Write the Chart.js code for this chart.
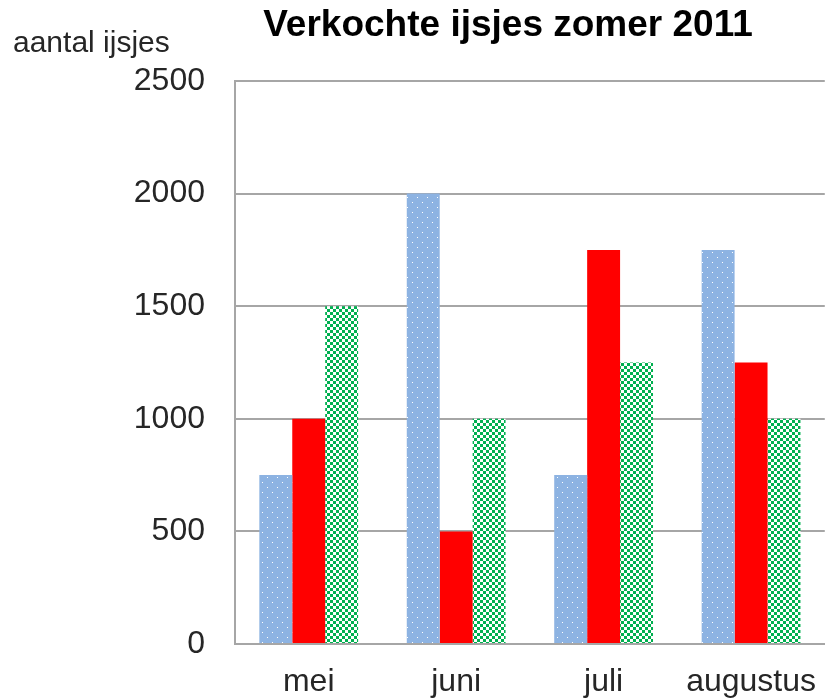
<!DOCTYPE html>
<html>
<head>
<meta charset="utf-8">
<script src="https://cdn.jsdelivr.net/npm/chart.js@4"></script>
<style>
  html, body { margin: 0; padding: 0; background: #fff; }
  #wrap { width: 827px; height: 699px; position: relative; }
</style>
</head>
<body>
<div id="wrap"><canvas id="myChart"></canvas></div>
<script>
const months = ["mei", "juni", "juli", "augustus"];
const seriesBlue = [750, 2000, 750, 1750];
const seriesRed = [1000, 500, 1750, 1250];
const seriesGreen = [1500, 1000, 1250, 1000];
const yTicks = [0, 500, 1000, 1500, 2000, 2500];

function dotPattern() {
    const c = document.createElement('canvas');
    c.width = 10; c.height = 10;
    const g = c.getContext('2d');
    g.fillStyle = '#8DB3E2';
    g.fillRect(0, 0, 10, 10);
    g.fillStyle = '#ffffff';
    g.fillRect(2, 2, 1, 1);
    g.fillRect(7, 7, 1, 1);
    return g.createPattern(c, 'repeat');
}

function checkPattern() {
    const c = document.createElement('canvas');
    c.width = 6; c.height = 6;
    const g = c.getContext('2d');
    g.fillStyle = '#ffffff';
    g.fillRect(0, 0, 6, 6);
    g.fillStyle = '#00B050';
    g.fillRect(0, 0, 3, 3);
    g.fillRect(3, 3, 3, 3);
    return g.createPattern(c, 'repeat');
}

const textPlugin = {
    id: 'texts',
    afterDraw(chart) {
        const ctx = chart.ctx;
        ctx.save();
        ctx.fillStyle = '#000';
        ctx.textBaseline = 'middle';
        ctx.textAlign = 'center';
        ctx.font = 'bold 37px "Liberation Sans", Arial, sans-serif';
        ctx.fillText('Verkochte ijsjes zomer 2011', 508, 26);
        ctx.fillStyle = '#262626';
        ctx.textAlign = 'left';
        ctx.font = '30px "Liberation Sans", Arial, sans-serif';
        ctx.fillText('aantal ijsjes', 13, 44);
        ctx.restore();
    }
};

document.addEventListener('DOMContentLoaded', function () {
    const config = {
        type: 'bar',
        data: {
            labels: months,
            datasets: [
                { data: seriesBlue, backgroundColor: dotPattern() },
                { data: seriesRed, backgroundColor: '#FF0000' },
                { data: seriesGreen, backgroundColor: checkPattern() }
            ]
        },
        options: {
            responsive: true,
            maintainAspectRatio: false,
            animation: false,
            layout: { padding: { top: 81, left: 0, right: -4, bottom: 0 } },
            scales: {
                x: {
                    grid: { display: false },
                    border: { display: true, color: '#A6A6A6', width: 2 },
                    ticks: {
                        color: '#262626',
                        padding: 11,
                        font: { family: '"Liberation Sans", Arial, sans-serif', size: 32 }
                    },
                    afterFit(scale) { scale.height = 55; }
                },
                y: {
                    min: 0,
                    max: 2500,
                    afterBuildTicks(scale) { scale.ticks = yTicks.map(v => ({ value: v })); },
                    grid: { color: '#A6A6A6', lineWidth: 2, drawTicks: false },
                    border: { display: true, color: '#A6A6A6', width: 2 },
                    ticks: {
                        color: '#262626',
                        padding: 30,
                        callback: (v) => String(v),
                        font: { family: '"Liberation Sans", Arial, sans-serif', size: 32 }
                    },
                    afterFit(scale) { scale.width = 235; }
                }
            },
            datasets: { bar: { categoryPercentage: 0.67, barPercentage: 1.0 } },
            plugins: {
                legend: { display: false },
                title: { display: false },
                tooltip: { enabled: false }
            }
        },
        plugins: [textPlugin]
    };
    new Chart(document.getElementById('myChart'), config);
});
</script>
</body>
</html>
